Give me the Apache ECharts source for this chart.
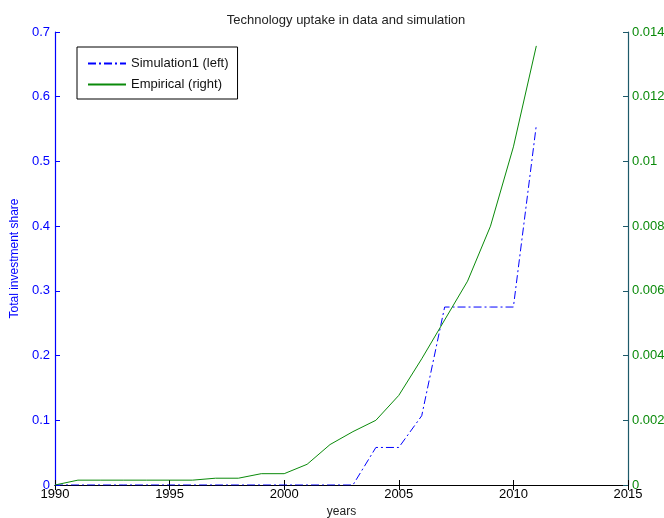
<!DOCTYPE html>
<html>
<head>
<meta charset="utf-8">
<script src="https://cdn.jsdelivr.net/npm/echarts@6/dist/echarts.min.js"></script>
<style>html,body{margin:0;padding:0;background:#fff}#c{width:664px;height:518px}</style>
</head>
<body>
<div id="c"></div>
<script>
var years = [1990,1991,1992,1993,1994,1995,1996,1997,1998,1999,2000,2001,2002,2003,2004,2005,2006,2007,2008,2009,2010,2011];
var simulation = [0,0,0,0,0,0,0,0,0,0,0,0,0,0,0.058,0.058,0.107,0.275,0.275,0.275,0.275,0.556];
var empirical = [0,0.00015,0.00015,0.00015,0.00015,0.00015,0.00015,0.00021,0.00021,0.00035,0.00035,0.00064,0.00125,0.00165,0.002,0.00277,0.0039,0.0051,0.0063,0.008,0.01045,0.01357];
var leftTicks = {min:0, max:0.7, interval:0.1};
var rightTicks = {min:0, max:0.014, interval:0.002};
var xTicks = {min:1990, max:2015, interval:5};

var font = 'Liberation Sans, Arial, sans-serif';
var chart = echarts.init(document.getElementById('c'));
chart.setOption({
  animation:false,
  title:{text:'Technology uptake in data and simulation', left:341, top:9, textAlign:'center',
    textStyle:{fontFamily:font, fontSize:13, fontWeight:'normal', color:'#222'}},
  legend:{orient:'vertical', left:77, top:47, itemWidth:38, itemHeight:10, itemGap:8,
    padding:[10,9,8,10], borderColor:'#000', borderWidth:1, backgroundColor:'#fff',
    itemStyle:{opacity:0},
    textStyle:{fontFamily:font, fontSize:13, color:'#111'},
    data:['Simulation1 (left)','Empirical (right)']},
  grid:{left:55, right:36, top:32, bottom:33, outerBoundsMode:'none', containLabel:false},
  xAxis:[{type:'value', min:xTicks.min, max:xTicks.max, interval:xTicks.interval,
    name:'years', nameLocation:'middle', nameGap:19,
    nameTextStyle:{fontFamily:font, fontSize:12, color:'#222'},
    axisLine:{lineStyle:{color:'#000', width:1.2}},
    axisTick:{inside:true, length:5, lineStyle:{color:'#000'}},
    axisLabel:{fontFamily:font, fontSize:13, color:'#000', margin:3, formatter:function(v){return String(v);}},
    splitLine:{show:false}},
   {type:'value', position:'top', min:xTicks.min, max:xTicks.max, interval:xTicks.interval,
    axisLine:{lineStyle:{color:'#000', width:1.2}},
    axisTick:{inside:true, length:5, lineStyle:{color:'#000'}},
    axisLabel:{show:false}, splitLine:{show:false}}],
  yAxis:[{type:'value', position:'left', min:leftTicks.min, max:leftTicks.max, interval:leftTicks.interval,
    name:'Total investment share', nameLocation:'middle', nameGap:28,
    nameTextStyle:{fontFamily:font, fontSize:12, color:'#0000ff'},
    axisLine:{show:true, lineStyle:{color:'#0000ff', width:1.2}},
    axisTick:{show:true, inside:true, length:5, lineStyle:{color:'#0000ff'}},
    axisLabel:{fontFamily:font, fontSize:13, color:'#0000ff', margin:5},
    splitLine:{show:false}},
   {type:'value', position:'right', min:rightTicks.min, max:rightTicks.max, interval:rightTicks.interval,
    axisLine:{show:true, lineStyle:{color:'#1d5a6a', width:1.2}},
    axisTick:{show:true, inside:true, length:5, lineStyle:{color:'#1d5a6a'}},
    axisLabel:{fontFamily:font, fontSize:13, color:'#0a8a0a', margin:4},
    splitLine:{show:false}}],
  series:[
    {name:'Simulation1 (left)', type:'line', xAxisIndex:0, yAxisIndex:0, symbol:'none',
     data:years.map(function(y,i){return [y, simulation[i]];}),
     lineStyle:{color:'#0000ff', width:1, type:[8,3,2,3]}, itemStyle:{color:'#0000ff'}},
    {name:'Empirical (right)', type:'line', xAxisIndex:0, yAxisIndex:1, symbol:'none',
     data:years.map(function(y,i){return [y, empirical[i]];}),
     lineStyle:{color:'#0a8a0a', width:1}, itemStyle:{color:'#0a8a0a'}}
  ]
});
</script>
</body>
</html>
